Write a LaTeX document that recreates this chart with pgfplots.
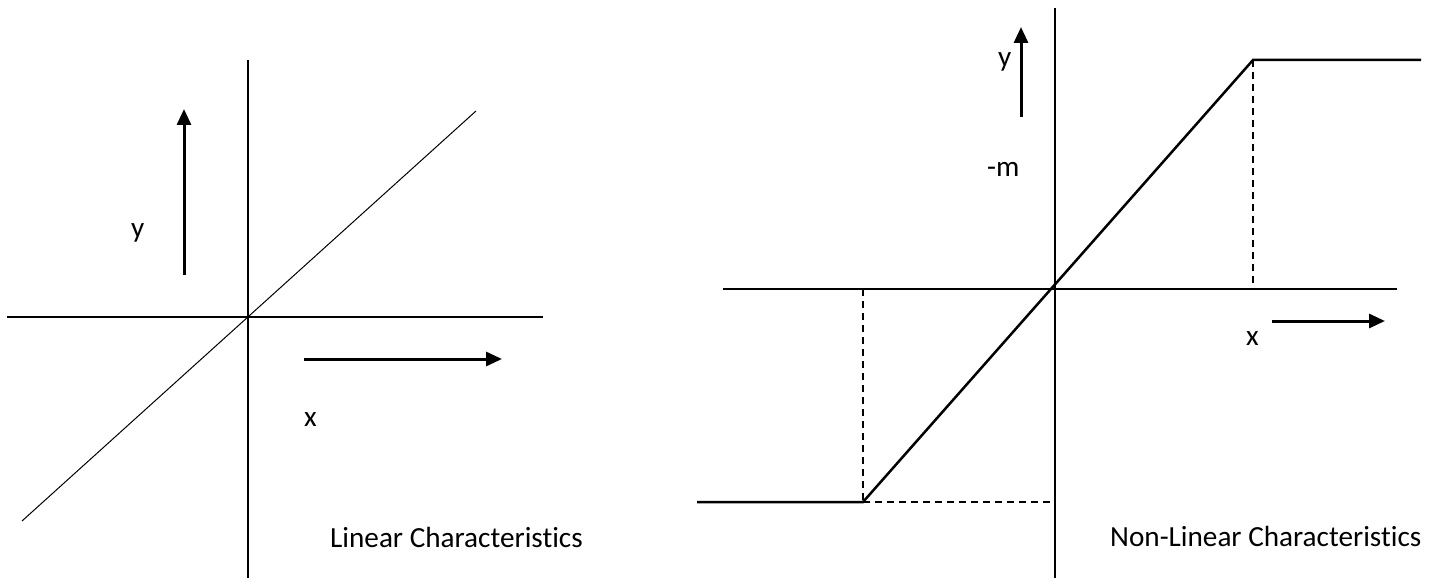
\documentclass[border=0pt]{standalone}
\usepackage{pgfplots}
\pgfplotsset{compat=1.18}
\usepackage{fontspec}
\setmainfont[Ligatures=NoCommon]{Carlito}
\usetikzlibrary{arrows.meta}
\begin{document}
\begin{tikzpicture}[lbl/.style={font=\fontsize{29.3}{32}\selectfont, inner sep=0pt, anchor=base west}]
\begin{axis}[
  scale only axis, width=1435bp, height=578bp,
  xmin=0, xmax=1435, ymin=0, ymax=578, y dir=reverse,
  hide axis, clip=false,
  every axis plot/.append style={black, mark=none},
]
\path (rel axis cs:0,0) rectangle (rel axis cs:1,1);
% ---- left: linear ----
\addplot[line width=1.4bp] coordinates {(7,317) (543,317)};
\addplot[line width=1.4bp] coordinates {(248,60) (248,578)};
\addplot[line width=1bp] coordinates {(22,521) (476,111)};
\addplot[line width=3bp, -{Triangle[length=16bp,width=14bp]}] coordinates {(184,275) (184,109)};
\addplot[line width=3bp, -{Triangle[length=16bp,width=14bp]}] coordinates {(304,359) (502,359)};
\node[lbl] at (axis cs:131,237) {y};
\node[lbl] at (axis cs:304,426) {x};
\node[lbl] at (axis cs:330,547) {Linear Characteristics};
% ---- right: non-linear ----
\addplot[line width=1.4bp] coordinates {(723,289) (1397,289)};
\addplot[line width=1.4bp] coordinates {(1055,8) (1055,578)};
\addplot[line width=2.5bp] coordinates {(697,502) (863,502) (1253,60) (1421,60)};
\addplot[line width=1.4bp, dash pattern=on 7bp off 5bp] coordinates {(863,289) (863,502)};
\addplot[line width=1.4bp, dash pattern=on 7bp off 5bp] coordinates {(863,502) (1055,502)};
\addplot[line width=1.4bp, dash pattern=on 7bp off 5bp] coordinates {(1253,60) (1253,289)};
\addplot[line width=3bp, -{Triangle[length=16bp,width=14bp]}] coordinates {(1021,117) (1021,27)};
\addplot[line width=3bp, -{Triangle[length=16bp,width=14bp]}] coordinates {(1272,321) (1385,321)};
\node[lbl] at (axis cs:998,67) {y};
\node[lbl] at (axis cs:987,177) {-m};
\node[lbl] at (axis cs:1246,345) {x};
\node[lbl] at (axis cs:1110,546) {Non-Linear Characteristics};
\end{axis}
\end{tikzpicture}
\end{document}
